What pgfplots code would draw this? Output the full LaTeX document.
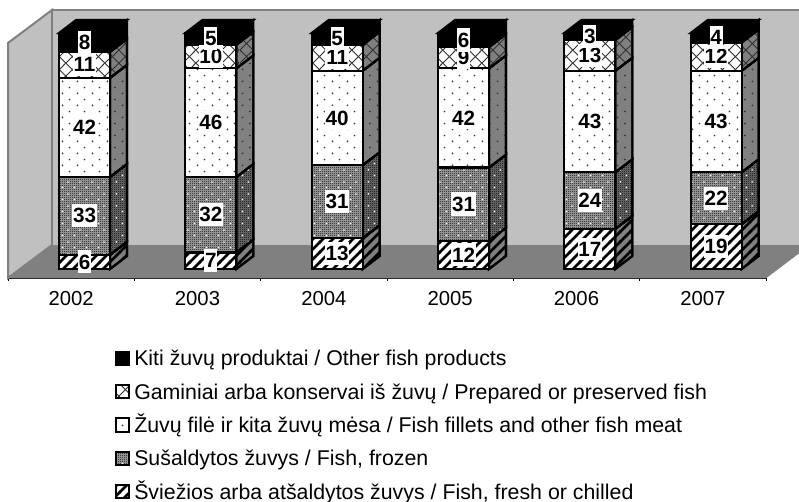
\documentclass[border=0pt]{standalone}
\usepackage{pgfplots}
\usepackage{fontspec}
\setmainfont{Liberation Sans}
\pgfplotsset{compat=1.18}
\usetikzlibrary{patterns}
\pgfdeclarepatternformonly{fstripes}{\pgfqpoint{-1pt}{-1pt}}{\pgfqpoint{8.5pt}{8.5pt}}{\pgfqpoint{7.5pt}{7.5pt}}{%
  \pgfsetlinewidth{2pt}\pgfpathmoveto{\pgfqpoint{-1pt}{-1pt}}\pgfpathlineto{\pgfqpoint{8.5pt}{8.5pt}}\pgfusepath{stroke}}
\pgfdeclarepatternformonly{fdots}{\pgfqpoint{0pt}{0pt}}{\pgfqpoint{11.25pt}{9.3pt}}{\pgfqpoint{11.25pt}{9.3pt}}{%
  \pgfpathcircle{\pgfqpoint{2pt}{2pt}}{0.75pt}\pgfpathcircle{\pgfqpoint{7.62pt}{6.65pt}}{0.75pt}\pgfusepath{fill}}
\pgfdeclarepatternformonly{fcross}{\pgfqpoint{0pt}{0pt}}{\pgfqpoint{10pt}{10pt}}{\pgfqpoint{10pt}{10pt}}{%
  \pgfsetlinewidth{0.7pt}\pgfpathmoveto{\pgfqpoint{0pt}{0pt}}\pgfpathlineto{\pgfqpoint{10pt}{10pt}}\pgfpathmoveto{\pgfqpoint{0pt}{10pt}}\pgfpathlineto{\pgfqpoint{10pt}{0pt}}\pgfusepath{stroke}}
\pgfdeclarepatternformonly{ffine}{\pgfqpoint{0pt}{0pt}}{\pgfqpoint{1.5pt}{1.5pt}}{\pgfqpoint{1.5pt}{1.5pt}}{%
  \pgfpathrectangle{\pgfqpoint{0pt}{0pt}}{\pgfqpoint{.75pt}{.75pt}}\pgfpathrectangle{\pgfqpoint{.75pt}{.75pt}}{\pgfqpoint{.75pt}{.75pt}}\pgfusepath{fill}}
\pgfdeclarepatternformonly{fsparse}{\pgfqpoint{0pt}{0pt}}{\pgfqpoint{9pt}{9pt}}{\pgfqpoint{9pt}{9pt}}{%
  \pgfpathcircle{\pgfqpoint{2pt}{2pt}}{0.7pt}\pgfpathcircle{\pgfqpoint{6.5pt}{6.5pt}}{0.7pt}\pgfusepath{fill}}
\definecolor{wallc}{HTML}{C0C0C0}
\definecolor{floorc}{HTML}{808080}
\definecolor{crossc}{HTML}{303030}
\definecolor{frontfrozen}{HTML}{A8A8A8}
\definecolor{sidefrozen}{HTML}{707070}
\tikzset{
 sfresh/.style={fill=#1,postaction={pattern=fstripes,pattern color=black}},
 sfrozen/.style={fill=#1,postaction={pattern=ffine,pattern color=black},postaction={pattern=fsparse,pattern color=white}},
 sfill/.style={fill=#1,postaction={pattern=fdots,pattern color=black!80}},
 sprep/.style={fill=#1,postaction={pattern=fcross,pattern color=crossc}},
 sother/.style={fill=black},
}
\pgfplotsset{common/.style={
  scale only axis,width=568.5pt,height=201pt,
  xmin=-0.5,xmax=5.5,ymin=-3.814,ymax=109.75,clip=false}}
\newcommand{\sideseg}[4]{% category, from, to, style
  \pgfmathsetmacro{\xa}{#1+0.3076}\pgfmathsetmacro{\xb}{#1+0.4422}
  \pgfmathsetmacro{\ya}{#2+5.5}\pgfmathsetmacro{\yb}{#3+5.5}
  \edef\temp{\noexpand\addplot[draw=black,line width=1.6pt,#4] coordinates {(\xa,#2) (\xb,\ya) (\xb,\yb) (\xa,#3)} --cycle;}\temp}
\newcommand{\topface}[1]{%
  \pgfmathsetmacro{\xa}{#1-0.0962}\pgfmathsetmacro{\xb}{#1+0.3076}\pgfmathsetmacro{\xc}{#1+0.4422}\pgfmathsetmacro{\xd}{#1+0.0384}
  \edef\temp{\noexpand\addplot[draw=black,line width=1.6pt,fill=black] coordinates {(\xa,100) (\xb,100) (\xc,105.5) (\xd,105.5)} --cycle;}\temp}
\begin{document}
\begin{tikzpicture}
\useasboundingbox (-6pt,-168pt) rectangle (593.25pt,208.5pt);
% walls, floor, x axis and the side faces
\begin{axis}[common,
  axis y line=none,axis x line=bottom,axis line style={-,black,line width=0.6pt},
  xtick={0,1,2,3,4,5},xticklabels={2002,2003,2004,2005,2006,2007},
  minor xtick={-0.5,0.5,1.5,2.5,3.5,4.5,5.5},
  major tick length=0pt,minor tick length=4pt,
  every minor tick/.style={black,line width=0.6pt},
  tick label style={font=\fontsize{15.2}{17}\selectfont},
  xticklabel style={yshift=-6.5pt},
  /pgf/number format/assume math mode=true]
\addplot[draw=floorc,fill=floorc] coordinates {(-0.5,-3.814) (5.5,-3.814) (5.7615,6.78) (5.7615,10.17) (-0.1517,10.17)} --cycle;
\addplot[draw=floorc,line width=1.5pt,fill=wallc] coordinates {(-0.5,-3.814) (-0.5,95.8) (-0.1517,109.75) (-0.1517,10.17)} --cycle;
\addplot[draw=none,fill=wallc] coordinates {(-0.1517,10.17) (-0.1517,109.75) (5.7615,109.75) (5.7615,10.17)} --cycle;
\addplot[draw=floorc,line width=1.5pt] coordinates {(-0.1517,10.17) (-0.1517,109.75) (5.7615,109.75)};
\sideseg{0}{0}{6}{sfresh=floorc}\sideseg{0}{6}{39}{sfrozen=sidefrozen}\sideseg{0}{39}{81}{sfill=floorc}\sideseg{0}{81}{92}{sprep=floorc}\sideseg{0}{92}{100}{sother}
\sideseg{1}{0}{7}{sfresh=floorc}\sideseg{1}{7}{39}{sfrozen=sidefrozen}\sideseg{1}{39}{85}{sfill=floorc}\sideseg{1}{85}{95}{sprep=floorc}\sideseg{1}{95}{100}{sother}
\sideseg{2}{0}{13}{sfresh=floorc}\sideseg{2}{13}{44}{sfrozen=sidefrozen}\sideseg{2}{44}{84}{sfill=floorc}\sideseg{2}{84}{95}{sprep=floorc}\sideseg{2}{95}{100}{sother}
\sideseg{3}{0}{12}{sfresh=floorc}\sideseg{3}{12}{43}{sfrozen=sidefrozen}\sideseg{3}{43}{85}{sfill=floorc}\sideseg{3}{85}{94}{sprep=floorc}\sideseg{3}{94}{100}{sother}
\sideseg{4}{0}{17}{sfresh=floorc}\sideseg{4}{17}{41}{sfrozen=sidefrozen}\sideseg{4}{41}{84}{sfill=floorc}\sideseg{4}{84}{97}{sprep=floorc}\sideseg{4}{97}{100}{sother}
\sideseg{5}{0}{19}{sfresh=floorc}\sideseg{5}{19}{41}{sfrozen=sidefrozen}\sideseg{5}{41}{84}{sfill=floorc}\sideseg{5}{84}{96}{sprep=floorc}\sideseg{5}{96}{100}{sother}
\topface{0}\topface{1}\topface{2}\topface{3}\topface{4}\topface{5}
\end{axis}
% front faces
\begin{axis}[common,hide axis,ybar stacked,bar width=0.4037,bar shift=10.02pt,
  reverse legend,
  legend image code/.code={\draw[#1,line width=1.4pt] (0pt,-3.5pt) rectangle (10pt,6.5pt);\path (12.2pt,0pt);},
  legend cell align=left,
  legend style={draw=none,fill=none,at={(79.8pt,-52.75pt)},anchor=north west,
    font=\fontsize{16}{19}\selectfont,row sep=7.5pt,inner sep=0pt,
    nodes={inner sep=1pt,text height=12pt,text depth=3.5pt}}]
\addplot[draw=black,line width=1.6pt,sfresh=white] coordinates {(0,6) (1,7) (2,13) (3,12) (4,17) (5,19)};
\addplot[draw=black,line width=1.6pt,sfrozen=frontfrozen] coordinates {(0,33) (1,32) (2,31) (3,31) (4,24) (5,22)};
\addplot[draw=black,line width=1.6pt,sfill=white] coordinates {(0,42) (1,46) (2,40) (3,42) (4,43) (5,43)};
\addplot[draw=black,line width=1.6pt,sprep=white] coordinates {(0,11) (1,10) (2,11) (3,9) (4,13) (5,12)};
\addplot[draw=black,line width=1.6pt,sother] coordinates {(0,8) (1,5) (2,5) (3,6) (4,3) (5,4)};
\legend{{Šviežios arba atšaldytos žuvys / Fish, fresh or chilled},
  {Sušaldytos žuvys / Fish, frozen},
  {Žuvų filė ir kita žuvų mėsa / Fish fillets and other fish meat},
  {Gaminiai arba konservai iš žuvų / Prepared or preserved fish},
  {Kiti žuvų produktai / Other fish products}}
\end{axis}
% value labels
\begin{axis}[common,hide axis,
  nodes near coords,point meta=explicit symbolic,
  every node near coord/.append style={anchor=center,fill=white,inner xsep=0.6pt,inner ysep=3.2pt,
     font=\fontsize{15.5}{15.5}\selectfont\bfseries,xshift=10.02pt}]
\addplot[draw=none,mark=none] coordinates {(0,3)[6] (1,3.5)[7] (2,6.5)[13] (3,6)[12] (4,8.5)[17] (5,9.5)[19]};
\addplot[draw=none,mark=none] coordinates {(0,22.5)[33] (1,23)[32] (2,28.5)[31] (3,27.5)[31] (4,29)[24] (5,30)[22]};
\addplot[draw=none,mark=none] coordinates {(0,60)[42] (1,62)[46] (2,64)[40] (3,64)[42] (4,62.5)[43] (5,62.5)[43]};
\addplot[draw=none,mark=none] coordinates {(0,86.5)[11] (1,90)[10] (2,89.5)[11] (3,89.5)[9] (4,90.5)[13] (5,90)[12]};
\addplot[draw=none,mark=none] coordinates {(0,96)[8] (1,97.5)[5] (2,97.5)[5] (3,97)[6] (4,98.5)[3] (5,98)[4]};
\end{axis}
\end{tikzpicture}
\end{document}
